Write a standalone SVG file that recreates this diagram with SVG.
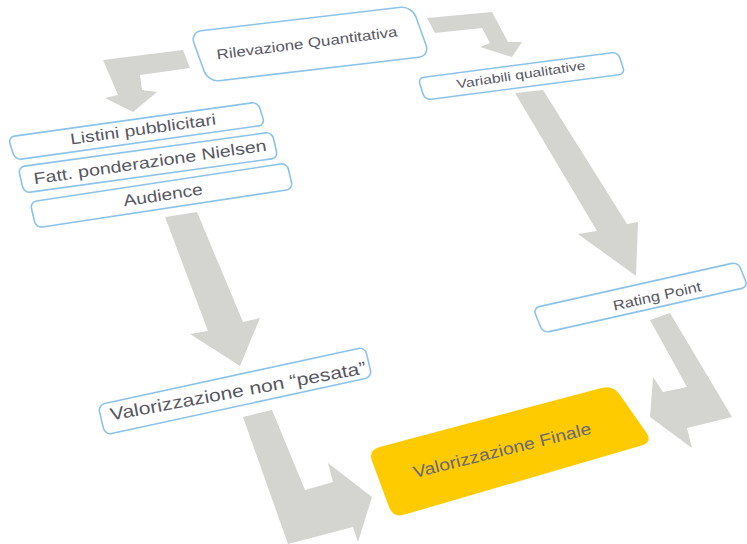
<svg xmlns="http://www.w3.org/2000/svg" width="747" height="544" viewBox="0 0 747 544">
<style>
.arrow{fill:#d4d4d1;stroke:none}
.box{fill:#ffffff;stroke:#8cc3ea;stroke-width:1.6}
.lbl{font-family:"Liberation Sans",Arial,sans-serif;fill:#58575f;text-anchor:middle;dominant-baseline:central}
.fin{fill:#fdcb00}
</style>
<rect width="747" height="544" fill="#ffffff"/>
<g id="connectors">
<polygon class="arrow" points="103,60 183,50 190,68 140,75 142,90 157,92 133,112 105,98 118,95"/>
<polygon class="arrow" points="427,18 492,12 508,42 522,42 512,57 480,47 490,43 482,28 435,33"/>
<polygon class="arrow" points="515,93 543,90 627,224 638,222 636,276 578,234 597,231"/>
<polygon class="arrow" points="165,217 197,212 243,322 260,318 240,366 190,334 208,331"/>
<polygon class="arrow" points="243,417 272,410 305,490 333,482 328,463 372,497 358,542 353,527 288,544"/>
<polygon class="arrow" points="650,320 670,313 732,417 687,428 692,448 650,417 653,377 663,392 687,387"/>
</g>
<g id="rilevazione">
<rect class="box" vector-effect="non-scaling-stroke" width="100" height="100" rx="5" ry="22" transform="matrix(2.22 -0.26 0.18 0.50 190 32)"/>
<text class="lbl" font-size="14" textLength="182" lengthAdjust="spacingAndGlyphs" transform="translate(307 43) rotate(-7.3)">Rilevazione Quantitativa</text>
</g>
<g id="variabili">
<rect class="box" vector-effect="non-scaling-stroke" width="100" height="100" rx="3" ry="25" transform="matrix(2.00 -0.26 0.07 0.22 418 78)"/>
<text class="lbl" font-size="12.5" textLength="130" lengthAdjust="spacingAndGlyphs" transform="translate(521 75) rotate(-8.5)">Variabili qualitative</text>
</g>
<g id="listini">
<rect class="box" vector-effect="non-scaling-stroke" width="100" height="100" rx="2.5" ry="28" transform="matrix(2.50 -0.35 0.07 0.23 8 137)"/>
<text class="lbl" font-size="15.5" textLength="147" lengthAdjust="spacingAndGlyphs" transform="translate(143 129) rotate(-7.8)">Listini pubblicitari</text>
</g>
<g id="fatt">
<rect class="box" vector-effect="non-scaling-stroke" width="100" height="100" rx="2.5" ry="25" transform="matrix(2.54 -0.35 0.06 0.26 18 167)"/>
<text class="lbl" font-size="16" textLength="235" lengthAdjust="spacingAndGlyphs" transform="translate(150 162) rotate(-8.2)">Fatt. ponderazione Nielsen</text>
</g>
<g id="audience">
<rect class="box" vector-effect="non-scaling-stroke" width="100" height="100" rx="2.5" ry="25" transform="matrix(2.57 -0.39 0.06 0.26 30 202)"/>
<text class="lbl" font-size="16" textLength="80" lengthAdjust="spacingAndGlyphs" transform="translate(163 195) rotate(-8.5)">Audience</text>
</g>
<g id="valorizzazione-non-pesata">
<rect class="box" vector-effect="non-scaling-stroke" width="100" height="100" rx="2.5" ry="22" transform="matrix(2.67 -0.58 0.07 0.30 98 405)"/>
<text class="lbl" font-size="17.5" textLength="260" lengthAdjust="spacingAndGlyphs" transform="translate(238 391) rotate(-10.5)">Valorizzazione non “pesata”</text>
</g>
<g id="rating-point">
<rect class="box" vector-effect="non-scaling-stroke" width="100" height="100" rx="3" ry="24" transform="matrix(2.05 -0.46 0.10 0.25 533 308)"/>
<text class="lbl" font-size="14" textLength="90" lengthAdjust="spacingAndGlyphs" transform="translate(657 296) rotate(-12.6)">Rating Point</text>
</g>
<g id="valorizzazione-finale">
<path class="fin" d="M379.6,446.9 L601.4,388.1 Q613,385 619.9,394.8 L646.1,432.2 Q653,442 641.5,445.4 L404.5,514.6 Q393,518 388.9,506.7 L372.1,461.3 Q368,450 379.6,446.9 Z"/>
<text class="lbl" fill="#6a6878" style="fill:#6a6878" font-size="16.5" textLength="183" lengthAdjust="spacingAndGlyphs" transform="translate(502 450) rotate(-14)">Valorizzazione Finale</text>
</g>
</svg>
